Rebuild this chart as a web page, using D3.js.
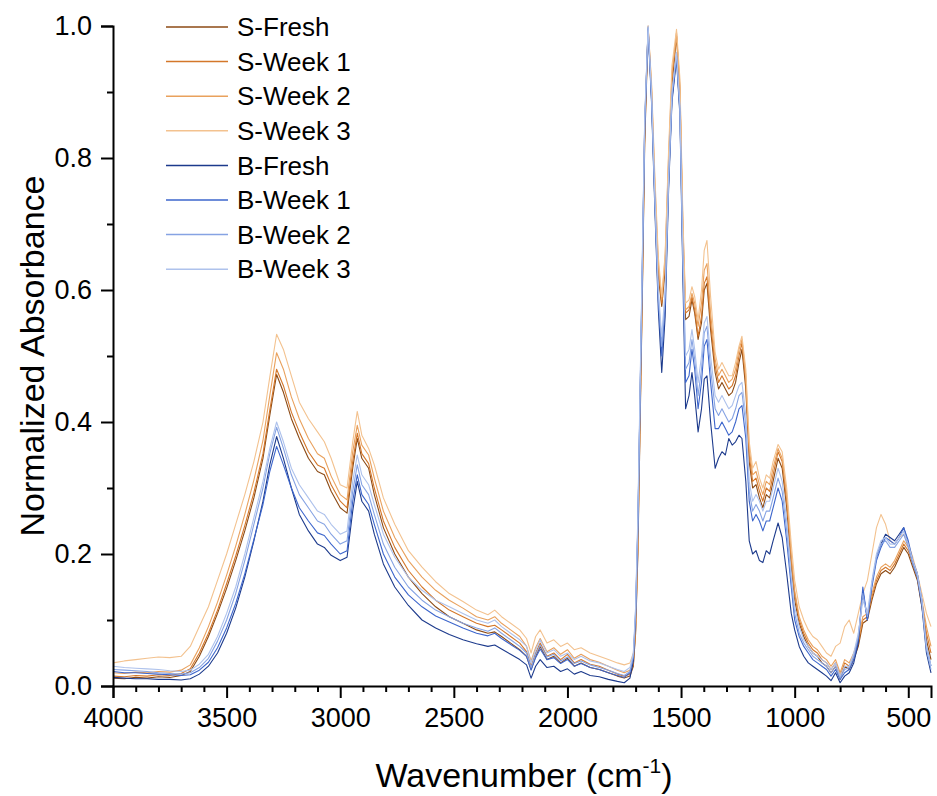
<!DOCTYPE html>
<html>
<head>
<meta charset="utf-8">
<script src="https://cdn.jsdelivr.net/npm/d3@7"></script>
<style>
  body { margin: 0; background: #fff; }
  svg { font-family: Arial, "Liberation Sans", sans-serif; }
</style>
</head>
<body>
<script>
// wavenumber grid (cm-1), shared by all spectra
const wavenumbers = [
  4000, 3950, 3900, 3850, 3800, 3750, 3700, 3660, 3620, 3580,
  3540, 3500, 3460, 3420, 3380, 3340, 3310, 3280, 3250, 3215,
  3180, 3140, 3100, 3070, 3040, 3000, 2970, 2945, 2925, 2905,
  2875, 2850, 2810, 2760, 2700, 2640, 2580, 2520, 2460, 2400,
  2350, 2320, 2290, 2250, 2210, 2180, 2160, 2140, 2120, 2090,
  2060, 2030, 2000, 1970, 1940, 1900, 1860, 1820, 1780, 1750,
  1725, 1710, 1700, 1690, 1680, 1670, 1660, 1645, 1630, 1615,
  1600, 1585, 1570, 1555, 1540, 1520, 1505, 1492, 1480, 1465,
  1452, 1440, 1425, 1410, 1398, 1386, 1370, 1350, 1335, 1320,
  1305, 1290, 1275, 1260, 1245, 1232, 1215, 1200, 1185, 1170,
  1155, 1140, 1125, 1110, 1095, 1073, 1055, 1035, 1015, 1000,
  980, 960, 940, 920, 900, 880, 860, 840, 820, 800,
  780, 760, 740, 720, 700, 680, 660, 640, 620, 600,
  580, 560, 540, 520, 500, 480, 460, 440, 420, 400
];

const sFresh = [
  0.012, 0.011, 0.013, 0.012, 0.014, 0.013, 0.016, 0.022, 0.045, 0.075,
  0.11, 0.148, 0.19, 0.235, 0.285, 0.345, 0.41, 0.472, 0.445, 0.405,
  0.375, 0.345, 0.325, 0.32, 0.295, 0.27, 0.262, 0.33, 0.375, 0.345,
  0.33, 0.29, 0.24, 0.2, 0.165, 0.14, 0.12, 0.105, 0.095, 0.085,
  0.08, 0.082, 0.075, 0.065, 0.055, 0.045, 0.025, 0.045, 0.06, 0.04,
  0.045, 0.035, 0.042, 0.03, 0.035, 0.028, 0.025, 0.02, 0.015, 0.012,
  0.015, 0.03, 0.08, 0.2, 0.4, 0.6, 0.82, 0.995, 0.9, 0.74,
  0.62, 0.575, 0.63, 0.78, 0.91, 0.985, 0.9, 0.68, 0.555, 0.56,
  0.585, 0.565, 0.525, 0.55, 0.6, 0.61, 0.54, 0.475, 0.45, 0.46,
  0.45, 0.44, 0.445, 0.46, 0.49, 0.51, 0.45, 0.34, 0.3, 0.305,
  0.285, 0.27, 0.29, 0.285, 0.31, 0.345, 0.33, 0.27, 0.18, 0.13,
  0.095, 0.075, 0.06, 0.05, 0.045, 0.035, 0.03, 0.02, 0.03, 0.01,
  0.03, 0.025, 0.04, 0.06, 0.095, 0.1, 0.13, 0.155, 0.17, 0.175,
  0.17, 0.18, 0.195, 0.21, 0.2, 0.18, 0.16, 0.12, 0.07, 0.04
];

const sWeek1 = [
  0.015, 0.014, 0.016, 0.015, 0.017, 0.016, 0.019, 0.026, 0.05, 0.08,
  0.115, 0.155, 0.197, 0.243, 0.293, 0.352, 0.418, 0.48, 0.455, 0.415,
  0.385, 0.355, 0.335, 0.33, 0.305, 0.28, 0.27, 0.34, 0.383, 0.352,
  0.337, 0.3, 0.25, 0.21, 0.175, 0.15, 0.13, 0.115, 0.105, 0.095,
  0.09, 0.092, 0.085, 0.075, 0.065, 0.052, 0.03, 0.05, 0.065, 0.045,
  0.05, 0.04, 0.048, 0.035, 0.04, 0.033, 0.03, 0.024, 0.018, 0.015,
  0.018, 0.033, 0.085, 0.21, 0.41, 0.61, 0.83, 0.998, 0.905, 0.75,
  0.63, 0.58, 0.64, 0.79, 0.92, 0.99, 0.905, 0.69, 0.565, 0.57,
  0.59, 0.57, 0.53, 0.56, 0.61, 0.62, 0.55, 0.485, 0.46, 0.47,
  0.46, 0.45, 0.455, 0.47, 0.5, 0.52, 0.46, 0.35, 0.31, 0.315,
  0.295, 0.28, 0.3, 0.295, 0.32, 0.355, 0.34, 0.28, 0.19, 0.14,
  0.1, 0.08, 0.065, 0.055, 0.05, 0.04, 0.035, 0.025, 0.035, 0.015,
  0.035, 0.03, 0.045, 0.065, 0.1, 0.105, 0.135, 0.16, 0.175, 0.18,
  0.175, 0.185, 0.2, 0.215, 0.205, 0.185, 0.165, 0.125, 0.08, 0.05
];

const sWeek2 = [
  0.02, 0.019, 0.021, 0.02, 0.022, 0.021, 0.024, 0.032, 0.058, 0.09,
  0.127, 0.168, 0.212, 0.26, 0.312, 0.372, 0.44, 0.505, 0.48, 0.438,
  0.405, 0.375, 0.352, 0.345, 0.318, 0.29, 0.282, 0.355, 0.395, 0.365,
  0.35, 0.315, 0.265, 0.225, 0.19, 0.165, 0.145, 0.13, 0.118, 0.105,
  0.1, 0.105, 0.095, 0.085, 0.075, 0.06, 0.038, 0.058, 0.072, 0.052,
  0.058, 0.048, 0.055, 0.042, 0.048, 0.04, 0.036, 0.03, 0.024, 0.02,
  0.024, 0.038, 0.09, 0.22, 0.42, 0.62, 0.84, 1.0, 0.91, 0.76,
  0.64, 0.585, 0.65, 0.8, 0.93, 0.985, 0.91, 0.7, 0.57, 0.575,
  0.595, 0.58, 0.545, 0.58, 0.63, 0.64, 0.565, 0.495, 0.47, 0.48,
  0.47, 0.46, 0.465, 0.48, 0.51, 0.525, 0.47, 0.36, 0.32, 0.325,
  0.305, 0.29, 0.31, 0.305, 0.33, 0.36, 0.345, 0.29, 0.2, 0.145,
  0.105, 0.085, 0.07, 0.06, 0.055, 0.045, 0.04, 0.03, 0.04, 0.02,
  0.04, 0.035, 0.05, 0.07, 0.105, 0.11, 0.14, 0.165, 0.18, 0.185,
  0.18, 0.19, 0.205, 0.22, 0.21, 0.19, 0.17, 0.13, 0.09, 0.06
];

const sWeek3 = [
  0.035, 0.038, 0.04, 0.042, 0.044, 0.043, 0.045, 0.06, 0.09, 0.12,
  0.16, 0.2, 0.245, 0.29, 0.34, 0.4, 0.468, 0.533, 0.51, 0.47,
  0.43, 0.405, 0.385, 0.37, 0.345, 0.305, 0.3, 0.37, 0.416, 0.38,
  0.36, 0.335, 0.285, 0.245, 0.205, 0.18, 0.158, 0.14, 0.128, 0.115,
  0.108, 0.115, 0.105, 0.095, 0.085, 0.072, 0.05, 0.075, 0.085, 0.065,
  0.07, 0.06, 0.065, 0.055, 0.058, 0.05, 0.045, 0.04, 0.035, 0.032,
  0.035, 0.05, 0.1, 0.23, 0.43, 0.63, 0.85, 1.0, 0.915, 0.77,
  0.65, 0.59, 0.655, 0.81, 0.94, 0.995, 0.92, 0.71, 0.58, 0.585,
  0.605, 0.59, 0.555, 0.6, 0.66, 0.675, 0.59, 0.505, 0.48, 0.49,
  0.48, 0.47, 0.47, 0.49, 0.515, 0.53, 0.48, 0.37, 0.33, 0.34,
  0.315, 0.3, 0.32, 0.315, 0.34, 0.366, 0.355, 0.3, 0.215, 0.16,
  0.12, 0.1, 0.085, 0.075, 0.07, 0.06, 0.05, 0.045, 0.06, 0.065,
  0.09, 0.1, 0.08, 0.11, 0.14, 0.16, 0.2, 0.24, 0.26, 0.245,
  0.22, 0.215, 0.225, 0.23, 0.215, 0.195, 0.17, 0.14, 0.11, 0.09
];

const bFresh = [
  0.013, 0.012, 0.011, 0.011, 0.01, 0.01, 0.009, 0.011, 0.018, 0.03,
  0.05, 0.08, 0.118, 0.165, 0.22, 0.28, 0.335, 0.378, 0.345, 0.3,
  0.26, 0.235, 0.215, 0.21, 0.198, 0.19, 0.195, 0.265, 0.31, 0.28,
  0.265, 0.23, 0.185, 0.15, 0.122, 0.1, 0.088, 0.078, 0.07, 0.064,
  0.06, 0.062, 0.056, 0.048, 0.04, 0.032, 0.012, 0.03, 0.04, 0.028,
  0.03, 0.022, 0.026, 0.018, 0.022, 0.016, 0.014, 0.01, 0.007, 0.005,
  0.012, 0.038, 0.105, 0.24, 0.44, 0.64, 0.845, 0.995, 0.885, 0.72,
  0.57, 0.475, 0.56, 0.75, 0.885, 0.95, 0.865, 0.62, 0.42, 0.44,
  0.475, 0.44, 0.385, 0.42, 0.465, 0.47, 0.4, 0.33, 0.345, 0.355,
  0.35, 0.375, 0.365, 0.37, 0.38, 0.375, 0.31, 0.22, 0.2, 0.205,
  0.19, 0.187, 0.205, 0.2, 0.22, 0.247, 0.225, 0.17, 0.11, 0.085,
  0.06, 0.045, 0.035, 0.03, 0.025, 0.02, 0.015, 0.008, 0.02, 0.005,
  0.015, 0.02, 0.035, 0.065, 0.145, 0.1, 0.155, 0.195, 0.215, 0.23,
  0.225, 0.22, 0.23, 0.24, 0.215, 0.185, 0.165, 0.12, 0.05, 0.02
];

const bWeek1 = [
  0.022, 0.02, 0.02, 0.019, 0.018, 0.017, 0.016, 0.017, 0.024, 0.036,
  0.058, 0.088, 0.125, 0.17, 0.222, 0.275, 0.325, 0.363, 0.335, 0.3,
  0.27, 0.25, 0.232, 0.228, 0.215, 0.2, 0.205, 0.28, 0.32, 0.29,
  0.275, 0.245, 0.2, 0.165, 0.138, 0.12, 0.106, 0.097, 0.088, 0.08,
  0.076, 0.08, 0.072, 0.063, 0.054, 0.045, 0.024, 0.043, 0.056, 0.04,
  0.043, 0.034, 0.04, 0.03, 0.034, 0.028, 0.025, 0.02, 0.016, 0.013,
  0.02, 0.043, 0.11, 0.245, 0.445, 0.645, 0.85, 0.997, 0.89, 0.73,
  0.585, 0.5, 0.58, 0.76, 0.89, 0.955, 0.87, 0.64, 0.46, 0.47,
  0.51, 0.48, 0.42, 0.46, 0.515, 0.525, 0.46, 0.39, 0.39, 0.4,
  0.39, 0.38, 0.385, 0.4, 0.42, 0.425, 0.375, 0.28, 0.25, 0.26,
  0.25, 0.235, 0.25, 0.25, 0.27, 0.3, 0.28, 0.22, 0.15, 0.1,
  0.075, 0.06, 0.05, 0.04, 0.035, 0.03, 0.025, 0.015, 0.025, 0.01,
  0.02, 0.025, 0.04, 0.07, 0.15, 0.1, 0.15, 0.19, 0.21, 0.225,
  0.22, 0.215, 0.225, 0.24, 0.22, 0.19, 0.17, 0.13, 0.06, 0.03
];

const bWeek2 = [
  0.025, 0.024, 0.023, 0.022, 0.02, 0.019, 0.018, 0.02, 0.028, 0.042,
  0.068, 0.1, 0.14, 0.19, 0.245, 0.3, 0.352, 0.392, 0.36, 0.32,
  0.29, 0.27, 0.25, 0.245, 0.23, 0.215, 0.22, 0.295, 0.335, 0.305,
  0.29, 0.26, 0.215, 0.18, 0.15, 0.13, 0.115, 0.105, 0.095, 0.088,
  0.083, 0.088, 0.08, 0.07, 0.06, 0.05, 0.028, 0.048, 0.062, 0.044,
  0.048, 0.038, 0.044, 0.034, 0.038, 0.032, 0.028, 0.024, 0.019, 0.016,
  0.022, 0.045, 0.115, 0.25, 0.45, 0.65, 0.855, 0.998, 0.895, 0.735,
  0.59, 0.515, 0.59, 0.765, 0.895, 0.958, 0.875, 0.65, 0.48, 0.49,
  0.525, 0.495, 0.44, 0.48, 0.535, 0.545, 0.48, 0.42, 0.41, 0.42,
  0.41, 0.4, 0.405, 0.42, 0.44, 0.445, 0.395, 0.295, 0.265, 0.275,
  0.265, 0.25, 0.265, 0.265, 0.285, 0.315, 0.295, 0.235, 0.16, 0.11,
  0.08, 0.065, 0.055, 0.045, 0.04, 0.035, 0.03, 0.02, 0.03, 0.012,
  0.025, 0.028, 0.045, 0.075, 0.14, 0.105, 0.155, 0.195, 0.215, 0.22,
  0.21, 0.21, 0.22, 0.23, 0.21, 0.185, 0.165, 0.125, 0.055, 0.025
];

const bWeek3 = [
  0.03, 0.028, 0.027, 0.026, 0.025, 0.023, 0.022, 0.024, 0.033, 0.048,
  0.075, 0.11, 0.15, 0.2, 0.255, 0.31, 0.36, 0.4, 0.37, 0.33,
  0.305, 0.285, 0.265, 0.26, 0.245, 0.23, 0.235, 0.31, 0.35, 0.32,
  0.305, 0.275, 0.23, 0.195, 0.165, 0.145, 0.13, 0.12, 0.11, 0.1,
  0.095, 0.1, 0.09, 0.08, 0.07, 0.06, 0.035, 0.055, 0.07, 0.05,
  0.055, 0.045, 0.05, 0.04, 0.045, 0.038, 0.035, 0.03, 0.025, 0.022,
  0.028, 0.05, 0.12, 0.26, 0.46, 0.66, 0.86, 1.0, 0.9, 0.74,
  0.6, 0.53, 0.6, 0.77, 0.9, 0.96, 0.88, 0.66, 0.5, 0.51,
  0.54, 0.51, 0.46, 0.5, 0.55, 0.56, 0.5, 0.44, 0.43, 0.44,
  0.43, 0.42, 0.425, 0.44, 0.455, 0.46, 0.41, 0.31, 0.28, 0.29,
  0.28, 0.265, 0.28, 0.28, 0.3, 0.33, 0.31, 0.25, 0.17, 0.12,
  0.09, 0.07, 0.06, 0.05, 0.045, 0.04, 0.035, 0.025, 0.035, 0.015,
  0.03, 0.03, 0.05, 0.08, 0.13, 0.11, 0.16, 0.2, 0.22, 0.225,
  0.215, 0.215, 0.225, 0.235, 0.215, 0.19, 0.17, 0.13, 0.06, 0.03
];

const seriesNames = ["S-Fresh", "S-Week 1", "S-Week 2", "S-Week 3",
  "B-Fresh", "B-Week 1", "B-Week 2", "B-Week 3"];
const seriesValues = [sFresh, sWeek1, sWeek2, sWeek3, bFresh, bWeek1, bWeek2, bWeek3];
const seriesColors = ["#8c4a14", "#d4772a", "#e9a15d", "#f3c28f",
  "#1c3a8c", "#3d66cc", "#86a3e3", "#aec2ec"];

const xTicks = [4000, 3500, 3000, 2500, 2000, 1500, 1000, 500];
const xMinorTicks = d3.range(3900, 400, -100).filter(d => d % 500 !== 0);
const yTicks = [0, 0.2, 0.4, 0.6, 0.8, 1.0];
const yMinorTicks = [0.1, 0.3, 0.5, 0.7, 0.9];

// layout
let width = 937, height = 796;
let margins = { left: 113, top: 26, right: 6, bottom: 110 };
let plotW = width - margins.left - margins.right;
let plotH = height - margins.top - margins.bottom;

let svg = d3.select("body").append("svg")
  .attr("width", width)
  .attr("height", height);

let xScale = d3.scaleLinear().domain([4000, 400]).range([0, plotW]);
let yScale = d3.scaleLinear().domain([0, 1]).range([plotH, 0]);

let container = svg.append("g")
  .attr("transform", `translate(${margins.left}, ${margins.top})`);

// spectra
let lineGen = d3.line()
  .x((d, i) => xScale(wavenumbers[i]))
  .y(d => yScale(d));

container.selectAll("path.spectrum")
  .data(seriesValues)
  .join("path")
  .classed("spectrum", true)
  .attr("d", d => lineGen(d))
  .attr("fill", "none")
  .attr("stroke", (d, i) => seriesColors[i])
  .attr("stroke-width", 1.1)
  .attr("stroke-linejoin", "round");

// x axis (major + minor)
let xAxisG = container.append("g")
  .attr("transform", `translate(0, ${plotH})`)
  .call(d3.axisBottom(xScale).tickValues(xTicks).tickSize(12).tickPadding(10)
    .tickFormat(d3.format("d")));
container.append("g")
  .attr("transform", `translate(0, ${plotH})`)
  .call(d3.axisBottom(xScale).tickValues(xMinorTicks).tickSize(6).tickFormat(""))
  .call(g => g.select(".domain").remove());

// y axis (major + minor)
let yAxisG = container.append("g")
  .call(d3.axisLeft(yScale).tickValues(yTicks).tickSize(12).tickPadding(9)
    .tickFormat(d3.format(".1f")));
container.append("g")
  .call(d3.axisLeft(yScale).tickValues(yMinorTicks).tickSize(6).tickFormat(""))
  .call(g => g.select(".domain").remove());

container.selectAll(".domain, .tick line")
  .attr("stroke", "#000")
  .attr("stroke-width", 2);
container.selectAll(".tick text")
  .attr("font-size", 27)
  .attr("fill", "#000")
  .attr("font-family", "Arial, 'Liberation Sans', sans-serif");

// axis titles
svg.append("text")
  .attr("transform", `translate(44, ${margins.top + plotH / 2}) rotate(-90)`)
  .attr("text-anchor", "middle")
  .attr("font-size", 34)
  .text("Normalized Absorbance");

let xLabel = svg.append("text")
  .attr("x", margins.left + plotW / 2 + 2)
  .attr("y", 787)
  .attr("text-anchor", "middle")
  .attr("font-size", 34);
xLabel.append("tspan").text("Wavenumber (cm");
xLabel.append("tspan").text("-1").attr("font-size", 21).attr("dy", -14);
xLabel.append("tspan").text(")").attr("dy", 14);

// legend
let legend = svg.append("g")
  .attr("transform", `translate(166, 27)`);
let rows = legend.selectAll("g.row")
  .data(seriesNames)
  .join("g")
  .classed("row", true)
  .attr("transform", (d, i) => `translate(0, ${i * 34.6})`);
rows.append("line")
  .attr("x1", 0).attr("x2", 62)
  .attr("y1", 0).attr("y2", 0)
  .attr("stroke", (d, i) => seriesColors[i])
  .attr("stroke-width", 1.5);
rows.append("text")
  .attr("x", 71)
  .attr("y", 0)
  .attr("dy", "0.35em")
  .attr("font-size", 26)
  .text(d => d);
</script>
</body>
</html>
